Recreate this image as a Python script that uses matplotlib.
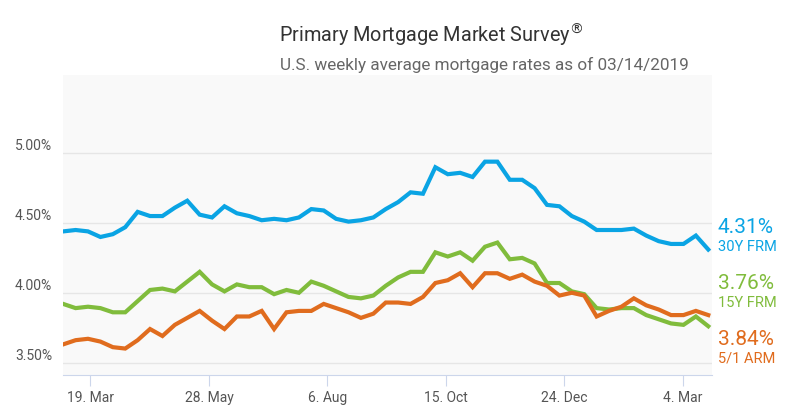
import matplotlib.pyplot as plt
from matplotlib.transforms import blended_transform_factory

plt.rcParams['font.family'] = ['Roboto', 'DejaVu Sans']

frm30 = [4.44, 4.45, 4.44, 4.40, 4.42, 4.47, 4.58, 4.55, 4.55, 4.61, 4.66, 4.56,
         4.54, 4.62, 4.57, 4.55, 4.52, 4.53, 4.52, 4.54, 4.60, 4.59, 4.53, 4.51,
         4.52, 4.54, 4.60, 4.65, 4.72, 4.71, 4.90, 4.85, 4.86, 4.83, 4.94, 4.94,
         4.81, 4.81, 4.75, 4.63, 4.62, 4.55, 4.51, 4.45, 4.45, 4.45, 4.46, 4.41,
         4.37, 4.35, 4.35, 4.41, 4.31]
frm15 = [3.92, 3.89, 3.90, 3.89, 3.86, 3.86, 3.94, 4.02, 4.03, 4.01, 4.08, 4.15,
         4.06, 4.01, 4.06, 4.04, 4.04, 3.99, 4.02, 4.00, 4.08, 4.05, 4.01, 3.97,
         3.96, 3.98, 4.05, 4.11, 4.15, 4.15, 4.29, 4.26, 4.29, 4.23, 4.33, 4.36,
         4.24, 4.25, 4.21, 4.07, 4.07, 4.01, 3.99, 3.89, 3.88, 3.89, 3.89, 3.84,
         3.81, 3.78, 3.77, 3.83, 3.76]
arm51 = [3.63, 3.66, 3.67, 3.65, 3.61, 3.60, 3.66, 3.74, 3.69, 3.77, 3.82, 3.87,
         3.80, 3.74, 3.83, 3.83, 3.87, 3.74, 3.86, 3.87, 3.87, 3.92, 3.89, 3.86,
         3.82, 3.85, 3.93, 3.93, 3.92, 3.97, 4.07, 4.09, 4.14, 4.04, 4.14, 4.14,
         4.10, 4.13, 4.08, 4.05, 3.98, 4.00, 3.98, 3.83, 3.87, 3.90, 3.96, 3.91,
         3.88, 3.84, 3.84, 3.87, 3.84]
tick_labels = ['19. Mar', '28. May', '6. Aug', '15. Oct', '24. Dec', '4. Mar']
tick_pos = [2.2, 11.75, 21.3, 30.85, 40.4, 49.95]
series = [('30Y FRM', frm30, '#0aa4e4'), ('15Y FRM', frm15, '#80bc3c'), ('5/1 ARM', arm51, '#e06c1e')]

fig = plt.figure(figsize=(8, 4.2), dpi=100)
ax = fig.add_axes([0.079, 0.107, 0.811, 0.714])
ax.set_facecolor('#f9f9f9')
x = list(range(len(frm30)))
for name, vals, col in series:
    ax.plot(x, vals, color=col, lw=3, solid_joinstyle='miter', zorder=3)

ax.set_xlim(0, 52.3)
ax.set_ylim(3.41, 5.56)
ax.set_yticks([3.5, 4.0, 4.5, 5.0])
ax.set_yticklabels(['3.50%', '4.00%', '4.50%', '5.00%'])
ax.set_xticks(tick_pos)
ax.set_xticklabels(tick_labels)
ax.grid(axis='y', color='#e6e6e6', lw=1)
ax.set_axisbelow(True)
for s in ['top', 'right', 'left']:
    ax.spines[s].set_visible(False)
ax.spines['bottom'].set_color('#ccd6eb')
ax.tick_params(axis='x', colors='#ccd6eb', length=8, labelcolor='#555555', labelsize=10)
ax.tick_params(axis='y', length=0, labelcolor='#555555', labelsize=10, pad=8)
for lbl in ax.get_yticklabels():
    lbl.set_verticalalignment('bottom')

# end-of-line value labels on the right
tr = blended_transform_factory(fig.transFigure, ax.transData)
for (name, vals, col), yy in zip(series, [4.40, 4.00, 3.60]):
    ax.text(0.897, yy, f'{vals[-1]:.2f}%', transform=tr, color=col, fontsize=15, va='bottom')
    ax.text(0.897, yy - 0.02, name, transform=tr, color=col, fontsize=10.5, va='top')

fig.text(0.539, 0.9, 'Primary Mortgage Market Survey$^{®}$', ha='center', fontsize=14.3, color='#333333')
fig.text(0.605, 0.833, 'U.S. weekly average mortgage rates as of 03/14/2019', ha='center', fontsize=12.3, color='#666666')

fig.savefig('out.png', dpi=100)
